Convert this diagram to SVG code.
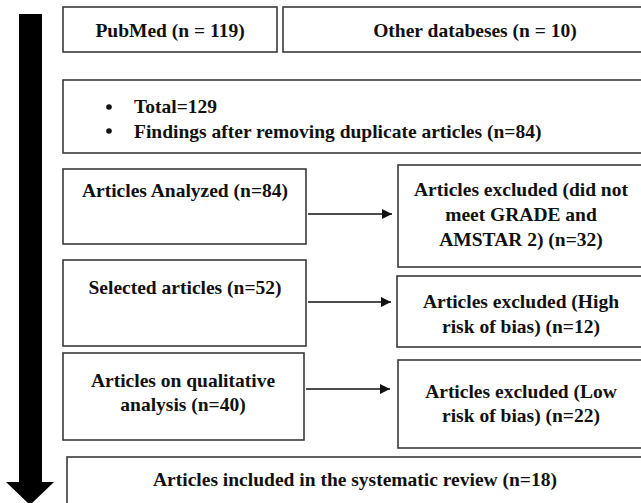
<svg xmlns="http://www.w3.org/2000/svg" width="641" height="503" viewBox="0 0 641 503">
<style>
.box{fill:#fff;stroke:#3a3a3a;stroke-width:1.6}
text{font-family:"Liberation Serif","Times New Roman",serif;font-weight:bold;font-size:19.5px;fill:#111}
.c{text-anchor:middle}
.conn{stroke:#111;stroke-width:1.4;fill:none}
</style>
<defs>
<marker id="ah" viewBox="0 0 10 10" refX="10" refY="5" markerWidth="10" markerHeight="10" markerUnits="userSpaceOnUse" orient="auto">
<path d="M0,0 L10,5 L0,10 z" fill="#111"/>
</marker>
</defs>
<rect width="641" height="503" fill="#fff"/>
<g id="flow-arrow">
<rect x="19" y="14" width="23" height="469" fill="#000"/>
<polygon points="6,482 54,482 30,505" fill="#000"/>
</g>
<g id="pubmed">
<rect class="box" x="63" y="7" width="214" height="45"/>
<text class="c" x="170" y="37">PubMed (n = 119)</text>
</g>
<g id="other">
<rect class="box" x="283" y="7" width="362" height="45"/>
<text class="c" x="475" y="37">Other databeses (n = 10)</text>
</g>
<g id="total">
<rect class="box" x="63" y="80" width="582" height="73"/>
<circle cx="109" cy="107" r="2.8" fill="#111"/>
<circle cx="109" cy="131" r="2.8" fill="#111"/>
<text x="134" y="113">Total=129</text>
<text x="134" y="138">Findings after removing duplicate articles (n=84)</text>
</g>
<g id="analyzed">
<rect class="box" x="63" y="169" width="243" height="75"/>
<text class="c" x="185" y="197">Articles Analyzed (n=84)</text>
</g>
<g id="excluded1">
<rect class="box" x="398" y="165" width="247" height="102"/>
<text class="c" x="521" y="196">Articles excluded (did not</text>
<text class="c" x="521" y="221">meet GRADE and</text>
<text class="c" x="521" y="246">AMSTAR 2) (n=32)</text>
</g>
<g id="selected">
<rect class="box" x="63" y="260" width="243" height="86"/>
<text class="c" x="185" y="294">Selected articles (n=52)</text>
</g>
<g id="excluded2">
<rect class="box" x="397" y="276" width="248" height="71"/>
<text class="c" x="521" y="308">Articles excluded (High</text>
<text class="c" x="521" y="333">risk of bias) (n=12)</text>
</g>
<g id="qualitative">
<rect class="box" x="63" y="353" width="241" height="87"/>
<text class="c" x="183" y="387">Articles on qualitative</text>
<text class="c" x="183" y="411">analysis (n=40)</text>
</g>
<g id="excluded3">
<rect class="box" x="398" y="360" width="247" height="88"/>
<text class="c" x="521" y="398">Articles excluded (Low</text>
<text class="c" x="521" y="422">risk of bias) (n=22)</text>
</g>
<g id="included">
<rect class="box" x="67" y="457" width="578" height="60"/>
<text class="c" x="355" y="486">Articles included in the systematic review (n=18)</text>
</g>
<g id="connectors">
<line class="conn" x1="308" y1="214" x2="392" y2="214" marker-end="url(#ah)"/>
<line class="conn" x1="308" y1="302" x2="391" y2="302" marker-end="url(#ah)"/>
<line class="conn" x1="306" y1="389" x2="390" y2="389" marker-end="url(#ah)"/>
</g>
</svg>
